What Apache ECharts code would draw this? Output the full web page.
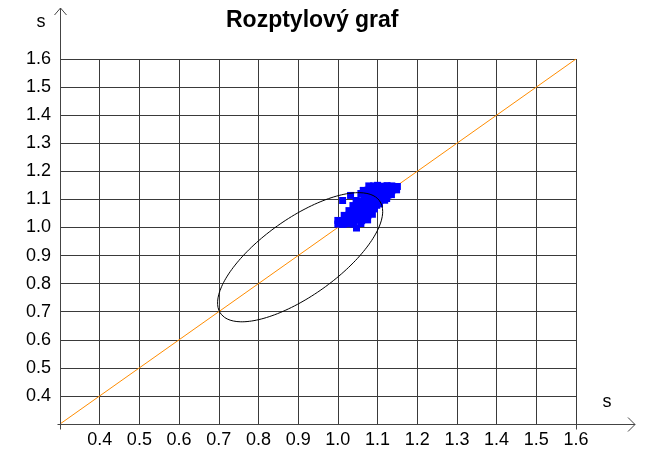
<!DOCTYPE html>
<html>
<head>
<meta charset="utf-8">
<script src="https://cdn.jsdelivr.net/npm/echarts@6/dist/echarts.min.js"></script>
<style>html,body{margin:0;padding:0;background:#fff}#c{width:645px;height:459px}</style>
</head>
<body>
<div id="c"></div>
<script>
// ---- data ----
const titleText = 'Rozptylový graf';
const axisNameX = 's';
const axisNameY = 's';
const axisMin = 0.3;
const axisMax = 1.6;
const axisStep = 0.1;
const xTickLabels = ['0.4','0.5','0.6','0.7','0.8','0.9','1.0','1.1','1.2','1.3','1.4','1.5','1.6'];
const yTickLabels = ['0.4','0.5','0.6','0.7','0.8','0.9','1.0','1.1','1.2','1.3','1.4','1.5','1.6'];
const diagonal = [[0.3,0.3],[1.6,1.6]];
const scatterX = [
  1.078,1.090,1.100,1.112,1.124,1.136,1.150,
  1.064,1.076,1.088,1.100,1.112,1.124,1.136,1.148,
  1.032,1.066,1.078,1.090,1.102,1.114,1.126,1.135,1.058,
  1.012,1.046,1.058,1.070,1.082,1.094,1.106,1.118,1.123,
  1.038,1.050,1.062,1.074,1.086,1.098,1.105,
  1.028,1.040,1.052,1.064,1.076,1.092,
  1.016,1.028,1.040,1.052,1.064,1.076,1.087,
  1.000,1.012,1.024,1.036,1.048,1.060,1.075,
  1.000,1.013,1.026,1.040,1.058,
  1.047
];
const scatterY = [
  1.148,1.148,1.150,1.147,1.149,1.148,1.146,
  1.132,1.133,1.131,1.134,1.132,1.133,1.131,1.134,
  1.114,1.114,1.115,1.113,1.116,1.114,1.115,1.117,1.121,
  1.096,1.096,1.095,1.097,1.096,1.098,1.096,1.097,1.103,
  1.078,1.079,1.077,1.078,1.080,1.079,1.084,
  1.060,1.061,1.059,1.060,1.062,1.066,
  1.043,1.044,1.042,1.043,1.045,1.044,1.047,
  1.025,1.024,1.026,1.025,1.026,1.024,1.027,
  1.012,1.011,1.013,1.012,1.014,
  0.998
];
// ellipse parameters: x = cx + rx*cos t, y = cy + ry*cos(t - phase)
const ellipseCenter = [0.905, 0.894];
const ellipseRadius = [0.208, 0.230];
const ellipsePhaseDeg = 45;

// ---- build ----
const scatterData = scatterX.map((x, i) => [x, scatterY[i]]);
const ellipseData = [];
for (let k = 0; k <= 180; k++) {
  const t = k / 180 * 2 * Math.PI;
  const ph = ellipsePhaseDeg * Math.PI / 180;
  ellipseData.push([ellipseCenter[0] + ellipseRadius[0] * Math.cos(t),
                    ellipseCenter[1] + ellipseRadius[1] * Math.cos(t - ph)]);
}
const FONT = 'Liberation Sans, Arial, sans-serif';
const gridColor = '#3a3a3a';

function fmt(list) {
  return function (v) { const s = v.toFixed(1); return list.indexOf(s) >= 0 ? s : ''; };
}

const chart = echarts.init(document.getElementById('c'), null, {renderer: 'canvas'});
chart.setOption({
  animation: false,
  backgroundColor: '#fff',
  title: {
    text: titleText, left: 221, top: 4,
    textStyle: {fontFamily: FONT, fontSize: 23, fontWeight: 'bold', color: '#000'}
  },
  grid: {left: 60, right: 69, top: 59, bottom: 35, containLabel: false},
  xAxis: {
    type: 'value', min: axisMin, max: axisMax, interval: axisStep,
    axisLine: {show: false}, axisTick: {show: false},
    splitLine: {show: true, lineStyle: {color: gridColor, width: 1}},
    axisLabel: {formatter: fmt(xTickLabels), fontFamily: FONT, fontSize: 18, color: '#000', margin: 7,
                showMinLabel: false}
  },
  yAxis: {
    type: 'value', min: axisMin, max: axisMax, interval: axisStep,
    axisLine: {show: false}, axisTick: {show: false},
    splitLine: {show: true, lineStyle: {color: gridColor, width: 1}},
    axisLabel: {formatter: fmt(yTickLabels), fontFamily: FONT, fontSize: 18, color: '#000', margin: 9,
                showMinLabel: false}
  },
  series: [
    {type: 'line', data: diagonal, showSymbol: false, symbol: 'none', silent: true, z: 2,
     lineStyle: {color: '#ff8c00', width: 1}},
    {type: 'scatter', data: scatterData, symbol: 'rect', symbolSize: 7, z: 3,
     itemStyle: {color: '#0000ff', opacity: 1}},
    {type: 'line', data: ellipseData, showSymbol: false, symbol: 'none', silent: true, z: 4, smooth: false,
     lineStyle: {color: '#000', width: 1}}
  ]
});

// axes with open arrow heads (decoration)
const o = chart.convertToPixel({gridIndex: 0}, [axisMin, axisMin]);
const tr = chart.convertToPixel({gridIndex: 0}, [axisMax, axisMax]);
const ox = Math.round(o[0]) + 0.5, oy = Math.round(o[1]) + 0.5;
const rx = Math.round(tr[0]) + 0.5;
const axisStyle = {stroke: '#444', lineWidth: 1, fill: null};
chart.setOption({
  graphic: [
    {type: 'polyline', shape: {points: [[ox - 3, oy], [635, oy]]}, style: axisStyle, z: 10},
    {type: 'polyline', shape: {points: [[628, oy - 7], [635, oy], [628, oy + 7]]}, style: axisStyle, z: 10},
    {type: 'polyline', shape: {points: [[ox, oy + 5], [ox, 8]]}, style: axisStyle, z: 10},
    {type: 'polyline', shape: {points: [[ox - 6, 15], [ox, 8], [ox + 6, 15]]}, style: axisStyle, z: 10},
    {type: 'polyline', shape: {points: [[rx, oy], [rx, oy + 5]]}, style: axisStyle, z: 10},
    {type: 'text', x: 41, y: 22, style: {text: axisNameY, font: '18px ' + FONT, fill: '#000', align: 'center', verticalAlign: 'middle'}, z: 10},
    {type: 'text', x: 607, y: 402, style: {text: axisNameX, font: '18px ' + FONT, fill: '#000', align: 'center', verticalAlign: 'middle'}, z: 10}
  ]
});
</script>
</body>
</html>
